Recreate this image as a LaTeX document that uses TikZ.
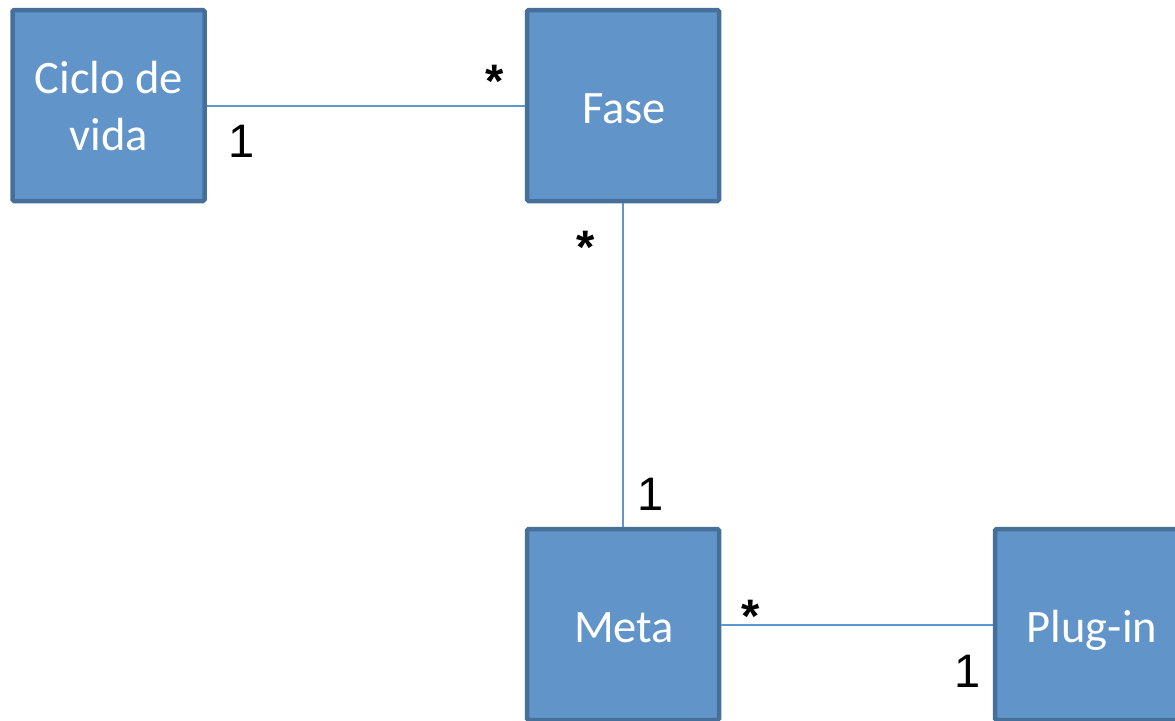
\documentclass[tikz,border=0pt]{standalone}
\usepackage{fontspec}
\newfontfamily\boxfont{Carlito}
\newfontfamily\labfont{Liberation Sans}
\definecolor{boxfill}{RGB}{97,149,201}
\definecolor{boxdraw}{RGB}{70,112,154}
\definecolor{linkcol}{RGB}{96,150,206}
\begin{document}
\begin{tikzpicture}[x=1pt,y=-1pt,
  umlbox/.style={draw=boxdraw,fill=boxfill,line width=4.5pt,rounded corners=1.5pt,
    minimum width=192pt,minimum height=191pt,inner sep=0pt},
  boxtext/.style={inner sep=0pt,align=center,text=white,
    font=\boxfont\fontsize{46.5}{57}\selectfont},
  link/.style={draw=linkcol,line width=2pt},
  mult/.style={anchor=base,inner sep=0pt,text=black,font=\labfont\fontsize{47}{50}\selectfont},
  star/.style={anchor=base,inner sep=0pt,text=black,font=\labfont\bfseries\fontsize{47}{50}\selectfont}]
\useasboundingbox (0,0) rectangle (1175,720);
\node[umlbox] (ciclo) at (108.5,105.5) {};
\node[umlbox] (fase) at (623,105.5) {};
\node[umlbox] (meta) at (623,624.5) {};
\node[umlbox] (plug) at (1091,624.5) {};
\node[boxtext,anchor=base] (cicloT) at (109,150) {Ciclo de\\vida};
\node[boxtext,anchor=base] (faseT) at (624,123) {Fase};
\node[boxtext,anchor=base] (metaT) at (624,642) {Meta};
\node[boxtext,anchor=base] (plugT) at (1092,642) {Plug-in};
\draw[link] (ciclo.east) -- (fase.west);
\draw[link] (fase.south) -- (meta.north);
\draw[link] (meta.east) -- (plug.west);
\node[mult] (m1) at (242,157) {1};
\node[star] (m2) at (495,97) {*};
\node[star] (m3) at (586,263) {*};
\node[mult] (m4) at (651,510) {1};
\node[star] (m5) at (751,632) {*};
\node[mult] (m6) at (968,687) {1};
\end{tikzpicture}
\end{document}
